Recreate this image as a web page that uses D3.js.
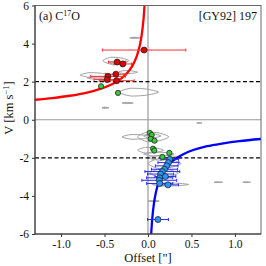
<!DOCTYPE html>
<html><head><meta charset="utf-8">
<script src="https://cdn.jsdelivr.net/npm/d3@7"></script>
<style>body{margin:0;background:#fff}svg{display:block}text{font-family:"Times New Roman","Liberation Serif","DejaVu Serif",serif;fill:#111}</style>
</head><body><svg id="c" width="266" height="266"></svg>
<script>
// Model curves
const redCurveX = [-1.30,-1.10,-0.90,-0.70,-0.55,-0.42,-0.32,-0.24,-0.18,-0.13,-0.10,-0.08,-0.065,-0.052,-0.04];
const redCurveV = [1.05,1.14,1.26,1.43,1.62,1.85,2.12,2.45,2.83,3.33,3.79,4.24,4.71,5.26,6.0];
const blueCurveX = [0.035,0.04,0.05,0.065,0.08,0.10,0.13,0.17,0.22,0.30,0.40,0.52,0.68,0.85,1.05,1.30];
const blueCurveV = [-6.15,-5.75,-5.14,-4.51,-4.07,-3.64,-3.19,-2.79,-2.45,-2.10,-1.82,-1.59,-1.39,-1.25,-1.12,-1.01];
// Data points
const redX = [-0.045,-0.355,-0.29,-0.46,-0.37,-0.47,-0.36];
const redV = [3.66,3.03,2.93,2.28,2.39,2.11,2.05];
const redErr = [0.48,0.1,0.1,0.2,0.12,0.15,0.2];
const greenX = [-0.54,-0.345,0.02,0.043,0.031,0.075,0.058,0.073,0.245,0.165];
const greenV = [1.76,1.41,-0.69,-0.80,-1.0,-1.1,-1.52,-1.62,-1.74,-1.95];
const blueX = [0.25,0.235,0.215,0.19,0.165,0.145,0.20,0.135,0.13,0.135,0.23,0.115];
const blueV = [-2.08,-2.25,-2.42,-2.6,-2.72,-2.85,-2.98,-3.05,-3.18,-3.35,-3.42,-5.24];
const blueErr = [0.1,0.12,0.13,0.15,0.2,0.15,0.12,0.15,0.2,0.15,0.12,0.12];
// Gray contour features: left, right offset, velocity, half-height
const grayX1 = [-0.21,-0.52,-0.45,-0.78,-0.70,-0.34,-0.34,-0.30,-0.53,0.56,-0.30,-0.12,-0.05,-0.12,-0.05,0.0,0.02,0.05,0.0,0.76,1.09,0.0];
const grayX2 = [-0.08,-0.22,-0.25,-0.45,-0.50,-0.12,0.12,-0.17,-0.45,0.62,0.05,0.24,0.15,0.18,0.30,0.38,0.35,0.47,0.13,0.86,1.18,0.40];
const grayV  = [4.3,3.1,3.0,2.35,2.2,2.5,1.45,0.88,0.63,-0.17,-0.9,-0.9,-0.85,-1.6,-1.8,-2.3,-2.8,-3.4,-4.27,-3.28,-3.28,-2.0];
const grayH  = [0.03,0.18,0.08,0.12,0.06,0.08,0.2,0.03,0.03,0.02,0.12,0.25,0.1,0.15,0.1,0.25,0.2,0.08,0.03,0.02,0.02,0.12];
const xTicks = [-1.0,-0.5,0.0,0.5,1.0];
const yTicks = [-6,-4,-2,0,2,4,6];

const FONT = '"Times New Roman","Liberation Serif",serif';
const svg = d3.select("#c");
const L=35,R=261,T=5.5,B=234;
const x = d3.scaleLinear().domain([-1.3,1.3]).range([L,R]);
const y = d3.scaleLinear().domain([-6,6]).range([B,T]);

const defs = svg.append("defs");
defs.append("clipPath").attr("id","clip").append("rect").attr("x",L).attr("y",T).attr("width",R-L).attr("height",B-T);
const g = svg.append("g").attr("clip-path","url(#clip)");

// zero lines
g.append("line").attr("x1",x(0)).attr("x2",x(0)).attr("y1",T).attr("y2",B).attr("stroke","#999").attr("stroke-width",1.2);
g.append("line").attr("x1",L).attr("x2",R).attr("y1",y(0)).attr("y2",y(0)).attr("stroke","#999").attr("stroke-width",1.2);

// gray contours
const closed = d3.line().x(d=>x(d[0])).y(d=>y(d[1])).curve(d3.curveCardinalClosed.tension(0.3));
grayX1.forEach((a,i)=>{
  const b=grayX2[i], v=grayV[i], h=grayH[i], m=(a+b)/2;
  const pts=[[a,v],[a+(b-a)*0.3,v+h],[m+(b-a)*0.2,v+h*0.8],[b,v],[m+(b-a)*0.2,v-h*0.8],[a+(b-a)*0.3,v-h]];
  g.append("path").attr("d",closed(pts)).attr("fill",h<=0.03?"#aaa":"none").attr("stroke","#a0a0a0").attr("stroke-width",1);
});

// dashed lines
[2,-2].forEach(v=>g.append("line").attr("x1",L).attr("x2",R).attr("y1",y(v)).attr("y2",y(v))
  .attr("stroke","#000").attr("stroke-width",1.2).attr("stroke-dasharray","4,2.5"));

// curves
const ln = d3.line().x(d=>x(d[0])).y(d=>y(d[1])).curve(d3.curveCatmullRom);
g.append("path").attr("d",ln(redCurveX.map((v,i)=>[v,redCurveV[i]]))).attr("fill","none").attr("stroke","#ff0000").attr("stroke-width",2.3);
g.append("path").attr("d",ln(blueCurveX.map((v,i)=>[v,blueCurveV[i]]))).attr("fill","none").attr("stroke","#0000ff").attr("stroke-width",2.3);

// error bars
function errs(X,V,E,col){
  X.forEach((xv,i)=>{
    const yy=y(V[i]);
    g.append("line").attr("x1",x(xv-E[i])).attr("x2",x(xv+E[i])).attr("y1",yy).attr("y2",yy).attr("stroke",col).attr("stroke-width",1);
    [xv-E[i],xv+E[i]].forEach(e=>g.append("line").attr("x1",x(e)).attr("x2",x(e)).attr("y1",yy-1.5).attr("y2",yy+1.5).attr("stroke",col).attr("stroke-width",1));
  });
}
errs(redX,redV,redErr,"#ff3030");
errs(blueX,blueV,blueErr,"#2a2aff");

function dots(X,V,fill,r){
  X.forEach((xv,i)=>g.append("circle").attr("cx",x(xv)).attr("cy",y(V[i])).attr("r",r).attr("fill",fill).attr("stroke","#222").attr("stroke-width",0.8));
}
dots(greenX,greenV,"#3ec83e",2.6);
dots(redX,redV,"#e00000",3);
dots(blueX,blueV,"#2a96ff",3);

// frame
svg.append("rect").attr("x",L).attr("y",T).attr("width",R-L).attr("height",B-T).attr("fill","none").attr("stroke","#666").attr("stroke-width",1);
svg.append("line").attr("x1",L).attr("x2",L).attr("y1",T).attr("y2",B).attr("stroke","#333").attr("stroke-width",1);
svg.append("line").attr("x1",L).attr("x2",R).attr("y1",B).attr("y2",B).attr("stroke","#333").attr("stroke-width",1);

// axes
const fmtX = d=>d3.format(".1f")(d).replace("−","-");
const ax = svg.append("g").attr("transform",`translate(0,${B})`).call(d3.axisBottom(x).tickValues(xTicks).tickFormat(fmtX).tickSize(3).tickPadding(3));
const ay = svg.append("g").attr("transform",`translate(${L},0)`).call(d3.axisLeft(y).tickValues(yTicks).tickFormat(d=>String(d)).tickSize(3).tickPadding(3));
[ax,ay].forEach(a=>{a.attr("font-family",FONT);a.select(".domain").remove();a.selectAll("line").attr("stroke","#333");
  a.selectAll("text").attr("font-family",FONT).style("font-family",FONT).style("font-size","11.5px").attr("fill","#111");});

// labels
svg.append("text").attr("x",148).attr("y",262).attr("text-anchor","middle").style("font-size","12.5px").text('Offset ["]');
const yl = svg.append("text").attr("transform","translate(13,108) rotate(-90)").attr("text-anchor","middle").style("font-size","12.5px");
yl.append("tspan").text("V [km s");
yl.append("tspan").attr("dy",-4).style("font-size","8.5px").text("−1");
yl.append("tspan").attr("dy",4).text("]");

const t1 = svg.append("text").attr("x",39).attr("y",20).style("font-size","12px");
t1.append("tspan").text("(a) C");
t1.append("tspan").attr("dy",-4.5).style("font-size","8px").text("17");
t1.append("tspan").attr("dy",4.5).text("O");
svg.append("text").attr("x",257).attr("y",20).attr("text-anchor","end").style("font-size","12px").text("[GY92] 197");
</script></body></html>
